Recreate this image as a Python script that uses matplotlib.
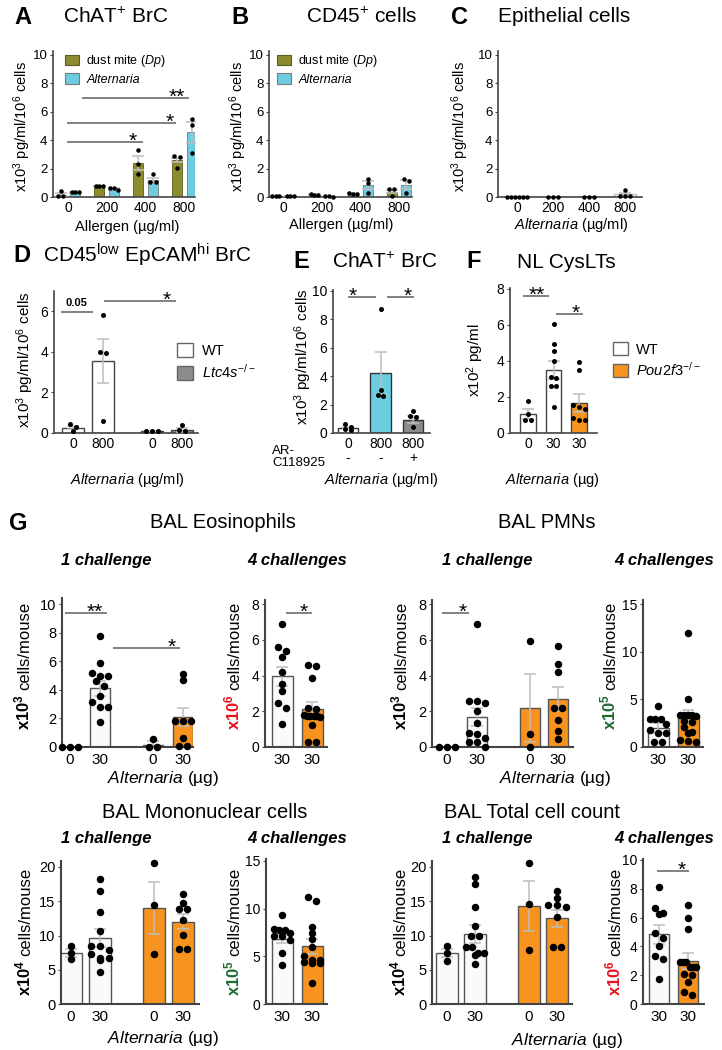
import numpy as np
import matplotlib
matplotlib.use('Agg')
import matplotlib.pyplot as plt
from matplotlib.patches import Patch

plt.rcParams['font.family'] = 'Liberation Sans'
plt.rcParams['mathtext.fontset'] = 'custom'
plt.rcParams['mathtext.rm'] = 'Liberation Sans'
plt.rcParams['mathtext.it'] = 'Liberation Sans:italic'
plt.rcParams['mathtext.bf'] = 'Liberation Sans:bold'
plt.rcParams['mathtext.default'] = 'regular'

W, H = 722, 1050
OLIVE = '#8C8C2F'
CYAN = '#6DCDE0'
GREY = '#8C8C8C'
ORANGE = '#F7931E'
ERR = '#BDBDBD'
SIG = '#808080'
RED = '#E8101B'
GREEN = '#1E6B2E'

# ---------------- data ----------------
doses = ['0', '200', '400', '800']

# A  ChAT+ BrC
a_dp_bar = [0.17, 0.78, 2.4, 2.6]
a_dp_sem = [0.12, 0.02, 0.5, 0.12]
a_dp_pts = [[0.4, 0.05, 0.05], [0.78, 0.78, 0.78], [3.3, 2.3, 1.65], [2.9, 2.85, 2.05]]
a_alt_bar = [0.33, 0.55, 1.18, 4.55]
a_alt_sem = [0.02, 0.08, 0.17, 0.75]
a_alt_pts = [[0.35, 0.35, 0.33], [0.65, 0.5, 0.6], [1.6, 1.05, 1.05], [5.5, 5.1, 3.1]]

# B  CD45+ cells
b_dp_bar = [0.05, 0.18, 0.22, 0.38]
b_dp_sem = [0.01, 0.02, 0.03, 0.12]
b_dp_pts = [[0.05, 0.05, 0.05], [0.2, 0.17, 0.15], [0.25, 0.22, 0.18], [0.55, 0.55, 0.1]]
b_alt_bar = [0.05, 0.05, 0.85, 0.88]
b_alt_sem = [0.01, 0.02, 0.3, 0.3]
b_alt_pts = [[0.05, 0.05, 0.05], [0.1, 0.05, 0.02], [1.25, 1.0, 0.3], [1.25, 1.13, 0.3]]

# C  Epithelial cells
c_bar = [0.0, 0.0, 0.0, 0.2]
c_sem = [0.0, 0.0, 0.0, 0.1]
c_pts = [[0, 0, 0, 0, 0, 0], [0, 0, 0], [0, 0, 0], [0.47, 0.1, 0.05, 0.05]]

# D  CD45low EpCAMhi BrC (WT 0, WT 800, Ltc4s 0, Ltc4s 800)
d_labels = ['0', '800', '0', '800']
d_bar = [0.27, 3.55, 0.09, 0.15]
d_sem = [0.08, 1.07, 0.01, 0.1]
d_pts = [[0.42, 0.3, 0.1], [5.8, 4.0, 3.95, 0.6], [0.08, 0.1, 0.08], [0.4, 0.15, 0.12]]

# E  ChAT+ BrC with AR-C118925
e_labels = ['0\n-', '800\n-', '800\n+']
e_bar = [0.35, 4.2, 0.95]
e_sem = [0.08, 1.5, 0.25]
e_pts = [[0.6, 0.4, 0.25, 0.2], [8.7, 3.0, 2.65, 2.6], [1.55, 1.2, 1.15, 0.45]]

# F  NL CysLTs
f_labels = ['0', '30', '30']
f_bar = [1.05, 3.5, 1.65]
f_sem = [0.27, 0.48, 0.5]
f_pts = [[1.8, 1.05, 0.75, 0.75],
         [6.05, 4.95, 4.55, 4.0, 3.1, 3.05, 2.6, 2.6, 1.45],
         [3.95, 3.5, 1.55, 1.45, 1.35, 0.85, 0.75, 0.7]]

# G  BAL counts (WT 0, WT 30, Pou2f3 0, Pou2f3 30) and 4 challenges (WT 30, Pou2f3 30)
g1_labels = ['0', '30', '0', '30']
g4_labels = ['30', '30']

eos1_bar = [0.0, 4.1, 0.15, 2.1]
eos1_sem = [0.0, 0.5, 0.25, 0.65]
eos1_pts = [[0, 0, 0],
            [7.75, 5.9, 5.2, 4.95, 4.95, 4.6, 4.25, 3.55, 3.15, 2.8, 2.8, 1.75],
            [0.55, 0, 0],
            [5.1, 4.7, 1.8, 1.8, 1.8, 0.6, 0.05, 0.05]]
eos4_bar = [3.95, 2.1]
eos4_sem = [0.55, 0.4]
eos4_pts = [[6.9, 5.6, 5.35, 5.05, 4.2, 3.5, 3.15, 2.45, 2.2, 1.3],
            [4.6, 4.55, 3.85, 2.2, 2.15, 1.8, 1.75, 1.75, 1.75, 1.75, 1.7, 1.25, 0.3, 0.3]]

pmn1_bar = [0.0, 1.7, 2.2, 2.7]
pmn1_sem = [0.0, 0.5, 1.9, 0.68]
pmn1_pts = [[0, 0, 0],
            [6.9, 2.55, 2.55, 2.45, 2.0, 1.35, 0.8, 0.75, 0.5, 0.3, 0.3, 0.0],
            [5.95, 0.7, 0.0],
            [5.65, 4.65, 4.2, 2.2, 2.2, 1.5, 0.9, 0.45]]
pmn4_bar = [2.0, 3.2]
pmn4_sem = [0.5, 0.65]
pmn4_pts = [[4.3, 2.9, 2.9, 2.9, 2.45, 1.8, 1.45, 1.45, 0.5, 0.5],
            [12.0, 5.0, 3.4, 3.4, 3.4, 3.35, 3.3, 2.7, 2.6, 2.1, 1.6, 1.5, 0.7, 0.6, 0.5]]

mono1_bar = [7.4, 9.65, 14.0, 12.0]
mono1_sem = [0.6, 1.3, 3.85, 1.1]
mono1_pts = [[8.5, 7.5, 6.5],
             [18.2, 16.5, 13.5, 10.7, 8.45, 8.45, 7.9, 7.3, 6.65, 6.65, 6.4, 4.7],
             [20.6, 14.5, 7.3],
             [16.0, 14.75, 13.9, 13.9, 12.2, 10.1, 8.0, 8.0]]
mono4_bar = [6.8, 6.05]
mono4_sem = [0.45, 0.8]
mono4_pts = [[9.3, 7.85, 7.75, 7.75, 7.4, 7.1, 7.1, 6.7, 5.3, 4.1],
             [11.25, 10.8, 8.1, 7.4, 6.8, 6.0, 5.0, 4.6, 4.6, 4.4, 4.3, 4.3, 2.2]]

tot1_bar = [7.4, 10.25, 14.3, 12.5]
tot1_sem = [0.6, 1.3, 3.7, 1.2]
tot1_pts = [[8.5, 7.5, 6.3],
            [18.5, 17.5, 14.2, 11.4, 10.0, 10.0, 8.3, 8.3, 7.5, 7.5, 7.1, 5.9],
            [20.6, 14.6, 7.9],
            [16.5, 15.5, 14.4, 14.4, 14.2, 12.7, 8.3, 8.3]]
tot4_bar = [4.85, 3.0]
tot4_sem = [0.65, 0.55]
tot4_pts = [[8.1, 6.65, 6.35, 6.25, 4.9, 4.55, 4.0, 3.3, 3.1, 1.75],
            [6.9, 6.0, 5.2, 2.95, 2.95, 2.95, 2.6, 2.6, 2.6, 2.1, 2.0, 1.55, 0.85, 0.65]]

# ---------------- helpers ----------------
fig = plt.figure(figsize=(W / 100, H / 100), dpi=100)


def make_ax(left, right, y0, ypx, yval, ytop, p0, unit):
    # axes placed in pixel units of the 722x1050 canvas
    s = (y0 - ypx) / yval
    top = y0 - ytop * s
    ax = fig.add_axes([left / W, 1 - y0 / H, (right - left) / W, (y0 - top) / H])
    ax.set_ylim(0, ytop)
    ax.set_xlim((left - p0) / unit, (right - p0) / unit)
    ax.patch.set_alpha(0)
    return ax


def style(ax, yticks, xticks, xlabels, fs=10, xfs=None, lw=1.2, tlen=2.5, pad=1.5, xpad=3):
    for s in ['top', 'right']:
        ax.spines[s].set_visible(False)
    for s in ['left', 'bottom']:
        ax.spines[s].set_color('#444444')
        ax.spines[s].set_linewidth(lw)
    ax.set_yticks(yticks)
    ax.set_xticks(xticks)
    ax.set_xticklabels(xlabels, linespacing=1.0)
    ax.tick_params(axis='y', length=tlen, width=0.8, color='#444444', labelsize=fs, pad=pad)
    ax.tick_params(axis='x', length=0, labelsize=xfs or fs, pad=xpad)


def swarm(ax, vals, d, width):
    # rows of nearly equal values are spread evenly across the bar
    o = ax.transData.transform([(0, 0), (1, 1)])
    sx, sy = o[1] - o[0]
    maxw = max(width * sx, 2.2 * d) + 0.4 * d
    vals = np.asarray(vals, dtype=float)
    rows = []
    for i in np.argsort(-vals, kind='stable'):
        y = vals[i] * sy
        if rows and abs(rows[-1][0] - y) < 0.75 * d:
            rows[-1][1].append(i)
        else:
            rows.append([y, [i]])
    offs = np.zeros(len(vals))
    for y, idx in rows:
        n = len(idx)
        if n < 2:
            continue
        step = min(1.15 * d, (maxw - d) / (n - 1))
        for j, i in enumerate(idx):
            offs[i] = (j - (n - 1) / 2) * step
    return offs / sx


def bar_dots(ax, pos, heights, sems, pts, faces, width, dot, edge='#444444', elw=1.0):
    for p, h, e, v, fc in zip(pos, heights, sems, pts, faces):
        ax.bar(p, h, width, color=fc, edgecolor=edge, linewidth=elw, zorder=2)
        if e > 0:
            ax.errorbar(p, h, yerr=e, color=ERR, lw=1.1, capsize=4, capthick=1.1, zorder=3)
        off = swarm(ax, v, dot, width)
        ax.scatter(p + off, v, s=(dot * 0.72) ** 2, color='black', lw=0, zorder=4, clip_on=False)


def sig(ax, x0, x1, y, txt, tx, fs=15):
    ax.plot([x0, x1], [y, y], color=SIG, lw=1.4, clip_on=False, zorder=5)
    ax.annotate(txt, (tx, y), xytext=(0, -3.5), textcoords='offset points',
                ha='center', va='baseline', fontsize=fs, annotation_clip=False)


def ftext(x, y, s, **kw):
    return fig.text(x / W, 1 - y / H, s, **kw)


def ylab(x, y, s, fs=11):
    ftext(x, y, s, rotation=90, ha='center', va='center', fontsize=fs)


def split_ylabel(xc, yc, pre, post, color, fs=12):
    t1 = fig.text(0, 0, pre, color=color, fontsize=fs, rotation=90,
                  rotation_mode='anchor', ha='left', va='baseline')
    t2 = fig.text(0, 0, post, fontsize=fs, rotation=90,
                  rotation_mode='anchor', ha='left', va='baseline')
    r = fig.canvas.get_renderer()
    h1 = t1.get_window_extent(r).height
    h2 = t2.get_window_extent(r).height
    gap = 4
    xb = xc + 0.36 * fs * 100 / 72
    ybot = yc + (h1 + gap + h2) / 2
    t1.set_position((xb / W, 1 - ybot / H))
    t2.set_position((xb / W, 1 - (ybot - h1 - gap) / H))


def legend(ax, handles, labels, x, y, fs, hl=1.1, hh=1.0, sp=0.35, italic=()):
    leg = ax.legend(handles, labels, loc='upper left', bbox_to_anchor=(x / W, 1 - y / H),
                    bbox_transform=fig.transFigure, frameon=False, fontsize=fs,
                    handlelength=hl, handleheight=hh, handletextpad=0.6,
                    labelspacing=sp, borderpad=0, borderaxespad=0)
    for i in italic:
        leg.get_texts()[i].set_fontstyle('italic')
    return leg


# ---------------- row 1: A, B, C ----------------
grp = np.arange(len(doses))

axA = make_ax(53, 195, 197, 55, 10, 10.3, 68, 38.8)
style(axA, [0, 2, 4, 6, 8, 10], grp, doses, fs=9.5, xfs=10)
bar_dots(axA, grp - 0.19, a_dp_bar, a_dp_sem, a_dp_pts, [OLIVE] * 4, 0.26, 4.5, edge='#5c5c1f', elw=0.6)
bar_dots(axA, grp + 0.19, a_alt_bar, a_alt_sem, a_alt_pts, [CYAN] * 4, 0.26, 4.5, edge='#7a7a7a', elw=0.6)
sig(axA, 0.39, 3.09, 6.94, '**', 2.81)
sig(axA, 0.0, 2.76, 5.18, '*', 2.63)
sig(axA, 0.0, 1.9, 3.88, '*', 1.68)
legend(axA, [Patch(fc=OLIVE, ec='#5c5c1f', lw=0.8), Patch(fc=CYAN, ec='#7a7a7a', lw=0.8)],
       ['dust mite ($\\mathit{Dp}$)', 'Alternaria'], 65, 53, 9, hl=1.1, hh=0.9, sp=0.35, italic=(1,))
ylab(22, 126, 'x10$^{3}$ pg/ml/10$^{6}$ cells', fs=10.5)
ftext(127, 227, 'Allergen (µg/ml)', ha='center', va='center', fontsize=10.5)

axB = make_ax(269, 412, 197, 55, 10, 10.3, 283, 38.7)
style(axB, [0, 2, 4, 6, 8, 10], grp, doses, fs=9.5, xfs=10)
bar_dots(axB, grp - 0.19, b_dp_bar, b_dp_sem, b_dp_pts, [OLIVE] * 4, 0.26, 4.5, edge='#5c5c1f', elw=0.6)
bar_dots(axB, grp + 0.19, b_alt_bar, b_alt_sem, b_alt_pts, [CYAN] * 4, 0.26, 4.5, edge='#7a7a7a', elw=0.6)
legend(axB, [Patch(fc=OLIVE, ec='#5c5c1f', lw=0.8), Patch(fc=CYAN, ec='#7a7a7a', lw=0.8)],
       ['dust mite ($\\mathit{Dp}$)', 'Alternaria'], 277, 53, 9, hl=1.1, hh=0.9, sp=0.35, italic=(1,))
ylab(238, 126, 'x10$^{3}$ pg/ml/10$^{6}$ cells', fs=10.5)
ftext(341, 225, 'Allergen (µg/ml)', ha='center', va='center', fontsize=10.5)

axC = make_ax(498, 642, 197, 55, 10, 10.3, 517, 36)
style(axC, [0, 2, 4, 6, 8, 10], grp, doses, fs=9.5, xfs=10)
bar_dots(axC, grp, c_bar, c_sem, c_pts, ['white'] * 4, 0.62, 4.5, edge='#BBBBBB', elw=1.0)
ylab(460, 126, 'x10$^{3}$ pg/ml/10$^{6}$ cells', fs=10.5)
ftext(571, 225, '$\\mathit{Alternaria}$ (µg/ml)', ha='center', va='center', fontsize=10.5)

ftext(23, 17, 'A', ha='center', va='center', fontsize=17, fontweight='bold')
ftext(116, 17, 'ChAT$^{+}$ BrC', ha='center', va='center', fontsize=15)
ftext(240, 17, 'B', ha='center', va='center', fontsize=17, fontweight='bold')
ftext(362, 17, 'CD45$^{+}$ cells', ha='center', va='center', fontsize=15)
ftext(460, 17, 'C', ha='center', va='center', fontsize=17, fontweight='bold')
ftext(564, 17, 'Epithelial cells', ha='center', va='center', fontsize=15)

# ---------------- row 2: D, E, F ----------------
d_pos = [0, 1, 2.63, 3.63]
axD = make_ax(54, 198, 433, 311, 6, 7.0, 73, 30)
style(axD, [0, 2, 4, 6], d_pos, d_labels)
bar_dots(axD, d_pos, d_bar, d_sem, d_pts, ['white', 'white', GREY, GREY], 0.73, 5)
sig(axD, 1.07, 3.4, 6.5, '*', 3.13)
axD.plot([-0.37, 0.63], [5.96, 5.96], color=SIG, lw=1.4, clip_on=False)
axD.annotate('0.05', (0.13, 5.96), xytext=(0, 3), textcoords='offset points',
             ha='center', va='bottom', fontsize=8, fontweight='bold')
legend(axD, [Patch(fc='white', ec='#666666', lw=1), Patch(fc=GREY, ec='#666666', lw=1)],
       ['WT', '$\\mathit{Ltc4s}^{-/-}$'], 177, 343, 10.5, hl=1.1, hh=1.1, sp=0.35)
ylab(25, 360, 'x10$^{3}$ pg/ml/10$^{6}$ cells')
ftext(127, 480, '$\\mathit{Alternaria}$ (µg/ml)', ha='center', va='center', fontsize=10.5)

e_pos = [0, 1, 2]
axE = make_ax(333, 430, 433, 291, 10, 10.1, 348, 32.5)
style(axE, [0, 2, 4, 6, 8, 10], e_pos, e_labels)
bar_dots(axE, e_pos, e_bar, e_sem, e_pts, ['white', CYAN, GREY], 0.62, 5, edge='#333333')
sig(axE, 0.03, 0.83, 9.6, '*', 0.15)
sig(axE, 1.23, 2.0, 9.6, '*', 1.85)
ftext(272, 457, 'AR-\nC118925', ha='left', va='center', fontsize=9.5, linespacing=1.05)
ylab(303, 357, 'x10$^{3}$ pg/ml/10$^{6}$ cells')
ftext(381, 480, '$\\mathit{Alternaria}$ (µg/ml)', ha='center', va='center', fontsize=10.5)

f_pos = [0, 1, 2]
axF = make_ax(510, 597, 433, 289, 8, 8.05, 528, 25.5)
style(axF, [0, 2, 4, 6, 8], f_pos, f_labels)
bar_dots(axF, f_pos, f_bar, f_sem, f_pts, ['white', 'white', ORANGE], 0.62, 5, edge='#444444')
sig(axF, -0.16, 0.78, 7.6, '**', 0.35)
sig(axF, 1.14, 2.12, 6.6, '*', 1.88)
legend(axF, [Patch(fc='white', ec='#666666', lw=1), Patch(fc=ORANGE, ec='#666666', lw=1)],
       ['WT', '$\\mathit{Pou2f3}^{-/-}$'], 613, 342, 10.5, hl=1.0, hh=1.0, sp=0.3)
ylab(475, 360, 'x10$^{2}$ pg/ml')
ftext(552, 480, '$\\mathit{Alternaria}$ (µg)', ha='center', va='center', fontsize=10.5)

ftext(22, 255, 'D', ha='center', va='center', fontsize=17, fontweight='bold')
ftext(147, 255, 'CD45$^{\\mathrm{low}}$ EpCAM$^{\\mathrm{hi}}$ BrC', ha='center', va='center', fontsize=15)
ftext(301, 262, 'E', ha='center', va='center', fontsize=17, fontweight='bold')
ftext(385, 262, 'ChAT$^{+}$ BrC', ha='center', va='center', fontsize=15)
ftext(474, 262, 'F', ha='center', va='center', fontsize=17, fontweight='bold')
ftext(566, 262, 'NL CysLTs', ha='center', va='center', fontsize=15)

# ---------------- panel G ----------------
G1_FACES = ['#FAFAFA', '#FAFAFA', ORANGE, ORANGE]
G4_FACES = ['#FAFAFA', ORANGE]
GD = 7.5


def g1_style(ax, yt, pos, labels):
    style(ax, yt, pos, labels, fs=10.5, xfs=11, lw=1.5, tlen=2.5, pad=1.5, xpad=4)


def g4_style(ax, yt):
    style(ax, yt, [0, 1], g4_labels, fs=10, xfs=11, lw=1.5, tlen=2.5, pad=1.5, xpad=4)


# Eosinophils
pos = [0, 1, 2.77, 3.77]
ax = make_ax(62, 193, 747, 604, 10, 10.4, 70, 30)
g1_style(ax, [0, 2, 4, 6, 8, 10], pos, g1_labels)
bar_dots(ax, pos, eos1_bar, eos1_sem, eos1_pts, G1_FACES, 0.67, GD, edge='#555555')
sig(ax, -0.13, 1.2, 9.37, '**', 0.83)
sig(ax, 1.47, 3.63, 6.9, '*', 3.4)
split_ylabel(23, 666, '$\\mathbf{x10^{3}}$', 'cells/mouse', 'black')

ax = make_ax(265, 327, 747, 604, 8, 8.2, 282, 30)
g4_style(ax, [0, 2, 4, 6, 8])
bar_dots(ax, [0, 1], eos4_bar, eos4_sem, eos4_pts, G4_FACES, 0.7, GD, edge='#555555')
sig(ax, 0.17, 0.97, 7.5, '*', 0.73)
split_ylabel(233, 666, '$\\mathbf{x10^{6}}$', 'cells/mouse', RED)
ftext(163, 778, '$\\mathit{Alternaria}$ (µg)', ha='center', va='center', fontsize=12.5)

# PMNs
pos = [0, 1.02, 2.81, 3.76]
ax = make_ax(432, 573, 747, 604, 8, 8.2, 447, 29.5)
g1_style(ax, [0, 2, 4, 6, 8], pos, g1_labels)
bar_dots(ax, pos, pmn1_bar, pmn1_sem, pmn1_pts, G1_FACES, 0.68, GD, edge='#555555')
sig(ax, -0.14, 0.71, 7.5, '*', 0.54)
split_ylabel(400, 666, '$\\mathbf{x10^{3}}$', 'cells/mouse', 'black')

ax = make_ax(643, 703, 747, 604, 15, 15.4, 658, 30)
g4_style(ax, [0, 5, 10, 15])
bar_dots(ax, [0, 1], pmn4_bar, pmn4_sem, pmn4_pts, G4_FACES, 0.7, GD, edge='#555555')
split_ylabel(609, 666, '$\\mathbf{x10^{5}}$', 'cells/mouse', GREEN)
ftext(555, 778, '$\\mathit{Alternaria}$ (µg)', ha='center', va='center', fontsize=12.5)

# Mononuclear cells
pos = [0, 1, 2.86, 3.86]
ax = make_ax(61, 199, 1004, 867, 20, 20.9, 71, 29)
g1_style(ax, [0, 5, 10, 15, 20], pos, g1_labels)
bar_dots(ax, pos, mono1_bar, mono1_sem, mono1_pts, G1_FACES, 0.76, GD, edge='#555555')
split_ylabel(24, 932, '$\\mathbf{x10^{4}}$', 'cells/mouse', 'black')

ax = make_ax(266, 327, 1004, 861, 15, 15.2, 282, 30)
g4_style(ax, [0, 5, 10, 15])
bar_dots(ax, [0, 1], mono4_bar, mono4_sem, mono4_pts, G4_FACES, 0.7, GD, edge='#555555')
split_ylabel(233, 932, '$\\mathbf{x10^{5}}$', 'cells/mouse', GREEN)
ftext(163, 1038, '$\\mathit{Alternaria}$ (µg)', ha='center', va='center', fontsize=12.5)

# Total cell count
pos = [0, 1, 2.93, 3.93]
ax = make_ax(432, 572, 1004, 867, 20, 20.9, 447, 28)
g1_style(ax, [0, 5, 10, 15, 20], pos, g1_labels)
bar_dots(ax, pos, tot1_bar, tot1_sem, tot1_pts, G1_FACES, 0.78, GD, edge='#555555')
split_ylabel(399, 932, '$\\mathbf{x10^{4}}$', 'cells/mouse', 'black')

ax = make_ax(643, 704, 1004, 860, 10, 10.1, 659, 29)
g4_style(ax, [0, 2, 4, 6, 8, 10])
bar_dots(ax, [0, 1], tot4_bar, tot4_sem, tot4_pts, G4_FACES, 0.72, GD, edge='#555555')
sig(ax, -0.03, 1.0, 9.25, '*', 0.79)
split_ylabel(614, 932, '$\\mathbf{x10^{6}}$', 'cells/mouse', RED)
ftext(567, 1040, '$\\mathit{Alternaria}$ (µg)', ha='center', va='center', fontsize=12.5)

# G titles
ftext(18, 523, 'G', ha='center', va='center', fontsize=17, fontweight='bold')
ftext(223, 523, 'BAL Eosinophils', ha='center', va='center', fontsize=14.5)
ftext(547, 523, 'BAL PMNs', ha='center', va='center', fontsize=14.5)
ftext(205, 813, 'BAL Mononuclear cells', ha='center', va='center', fontsize=14.5)
ftext(532, 813, 'BAL Total cell count', ha='center', va='center', fontsize=14.5)
for (x, y) in [(106, 560), (487, 560), (106, 839), (487, 839)]:
    ftext(x, y, '1 challenge', ha='center', va='center', fontsize=12,
          fontweight='bold', fontstyle='italic')
for (x, y) in [(297, 560), (664, 560), (297, 839), (664, 839)]:
    ftext(x, y, '4 challenges', ha='center', va='center', fontsize=12,
          fontweight='bold', fontstyle='italic')

fig.savefig('out.png', dpi=100, facecolor='white')
